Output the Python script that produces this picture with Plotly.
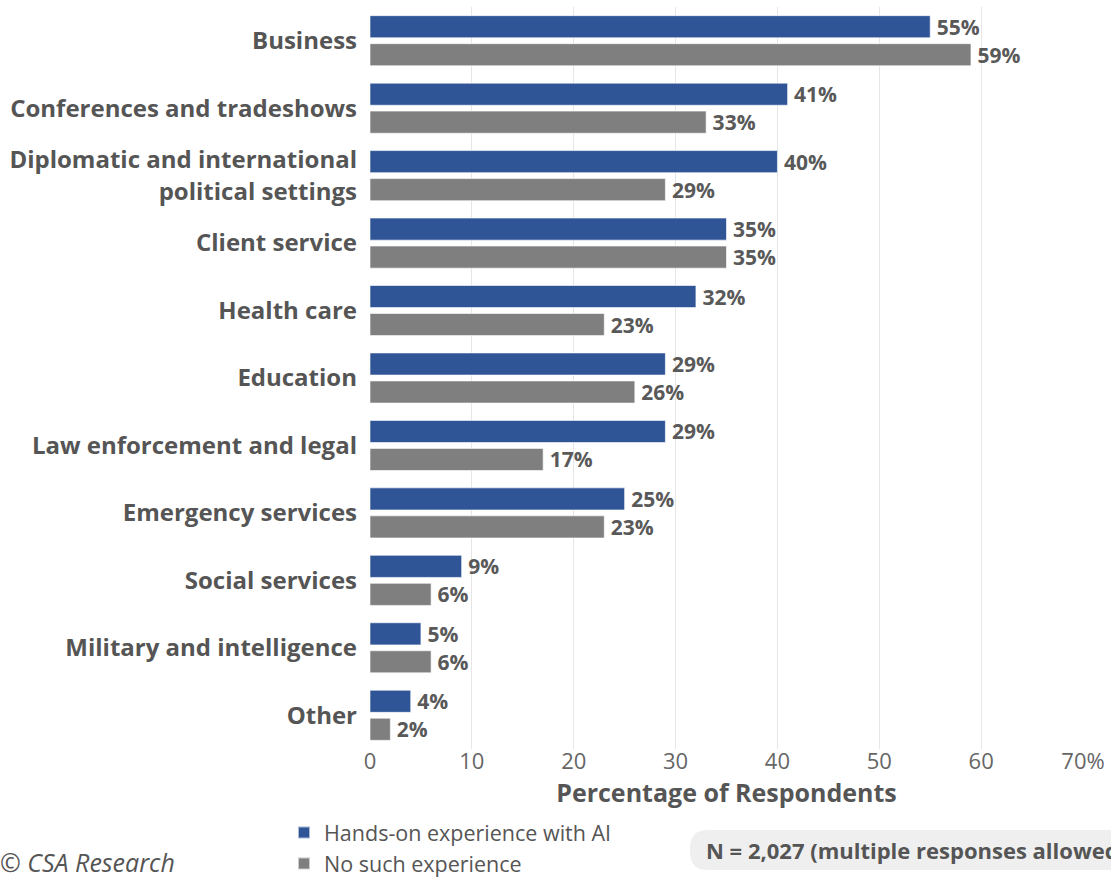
import plotly.graph_objects as go

categories = [
    "Business",
    "Conferences and tradeshows",
    "Diplomatic and international<br>political settings",
    "Client service",
    "Health care",
    "Education",
    "Law enforcement and legal",
    "Emergency services",
    "Social services",
    "Military and intelligence",
    "Other",
]
hands_on = [55, 41, 40, 35, 32, 29, 29, 25, 9, 5, 4]
no_experience = [59, 33, 29, 35, 23, 26, 17, 23, 6, 6, 2]
tick_vals = [0, 10, 20, 30, 40, 50, 60, 70]
tick_text = ["0", "10", "20", "30", "40", "50", "60", "70%"]

BLUE = "#2F5597"
GREY = "#7F7F7F"
TEXT = "#555555"
FONT = "Open Sans"

W, H = 1111, 880
M_L, M_R, M_T, M_B = 370, 28, 7, 131
PW, PH = W - M_L - M_R, H - M_T - M_B


def px(xp):
    return (xp - M_L) / PW


def py(yp):
    return (H - M_B - yp) / PH


fig = go.Figure()
for name, vals, color in [
    ("Hands-on experience with AI", hands_on, BLUE),
    ("No such experience", no_experience, GREY),
]:
    fig.add_trace(go.Bar(
        name=name,
        y=categories,
        x=vals,
        orientation="h",
        marker=dict(color=color, line=dict(color="rgba(255,255,255,0.6)", width=1)),
        text=[f"\u2009{v}%" for v in vals],
        textposition="outside",
        constraintext="none",
        textfont=dict(family=FONT, size=21, color="#595959", weight="bold"),
        cliponaxis=False,
    ))

# rounded box behind the sample-size note
x0, x1, y0, y1, r = 690, 1140, 830, 870, 18
rx, ry = r / PW, r / PH
path = (
    f"M {px(x0) + rx} {py(y0)} L {px(x1) - rx} {py(y0)} "
    f"Q {px(x1)} {py(y0)} {px(x1)} {py(y0) - ry} "
    f"L {px(x1)} {py(y1) + ry} Q {px(x1)} {py(y1)} {px(x1) - rx} {py(y1)} "
    f"L {px(x0) + rx} {py(y1)} Q {px(x0)} {py(y1)} {px(x0)} {py(y1) + ry} "
    f"L {px(x0)} {py(y0) - ry} Q {px(x0)} {py(y0)} {px(x0) + rx} {py(y0)} Z"
)
fig.add_shape(type="path", path=path, xref="paper", yref="paper",
              fillcolor="#EFEFEF", line=dict(width=0), layer="below")

fig.add_annotation(
    text="<b>N = 2,027 (multiple responses allowed)</b>",
    xref="paper", yref="paper", x=px(704), y=py(850),
    xanchor="left", yanchor="middle", showarrow=False,
    font=dict(family=FONT, size=22, color=TEXT),
)
fig.add_annotation(
    text="<i>© CSA Research</i>",
    xref="paper", yref="paper", x=px(-2), y=py(862),
    xanchor="left", yanchor="middle", showarrow=False,
    font=dict(family=FONT, size=25, color=TEXT),
)

fig.update_layout(
    width=W, height=H,
    margin=dict(l=M_L, r=M_R, t=M_T, b=M_B, autoexpand=False),
    paper_bgcolor="white", plot_bgcolor="white",
    barmode="group", bargap=0.17, bargroupgap=0.21,
    font=dict(family=FONT, color=TEXT),
    legend=dict(
        x=px(284), y=py(812), xanchor="left", yanchor="top",
        orientation="v", traceorder="normal",
        font=dict(family=FONT, size=21.5, color=TEXT),
        itemsizing="constant", tracegroupgap=0,
        bgcolor="rgba(0,0,0,0)",
    ),
    xaxis=dict(
        range=[0, 70], tickvals=tick_vals, ticktext=tick_text,
        automargin=False,
        showgrid=True, gridcolor="#E6E6E6", gridwidth=1,
        zeroline=False, showline=False,
        tickfont=dict(family=FONT, size=22, color="#666666"),
        ticks="", ticklabelstandoff=-3,
        title=dict(text="<b>Percentage of Respondents</b>",
                   font=dict(family=FONT, size=25, color=TEXT), standoff=1),
    ),
    yaxis=dict(
        categoryorder="array", categoryarray=categories,
        autorange="reversed", showgrid=False, zeroline=False,
        automargin=False,
        showline=False, ticks="", ticklabelstandoff=12,
        tickfont=dict(family=FONT, size=24, color=TEXT, weight="bold"),
    ),
)

fig.write_html("out.html")
